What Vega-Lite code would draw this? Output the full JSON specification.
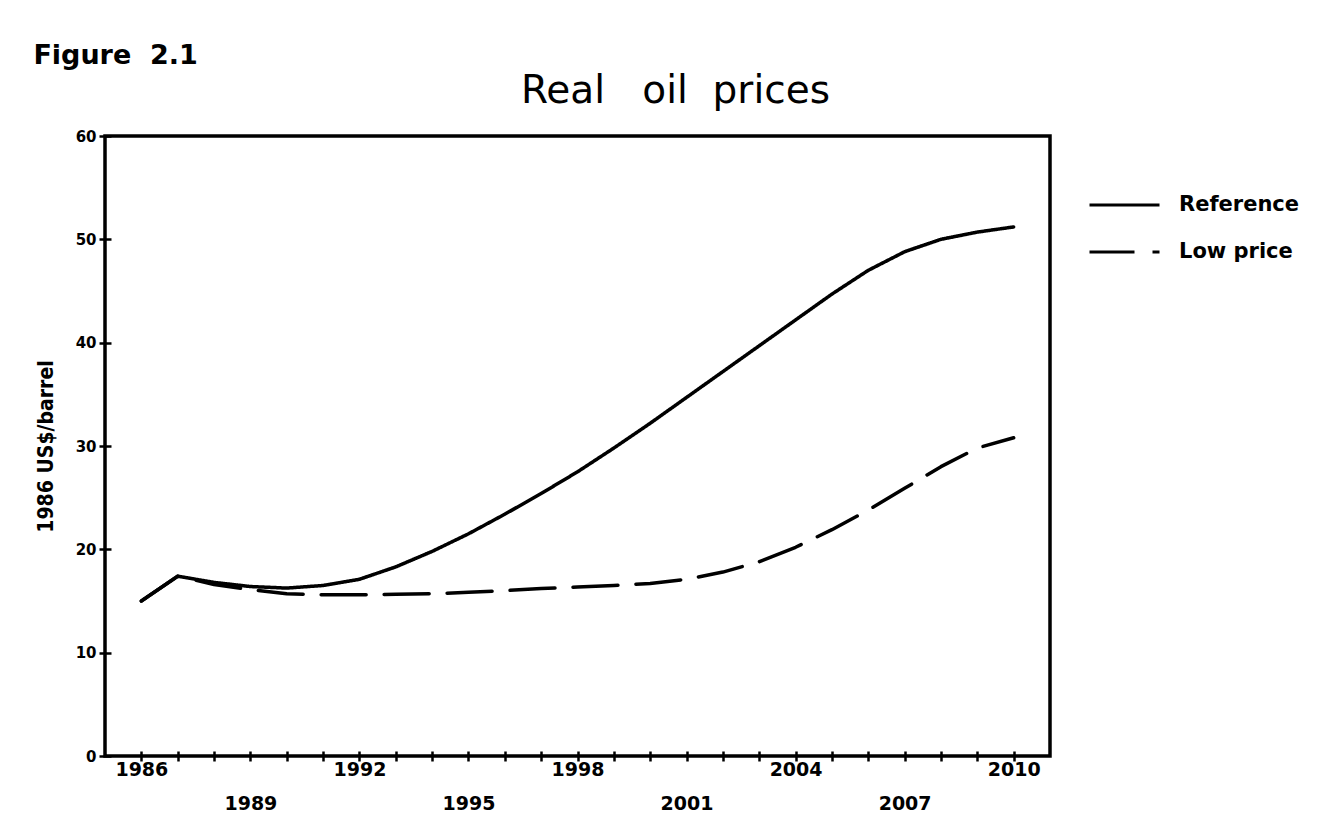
{
  "$schema": "https://vega.github.io/schema/vega-lite/v6.json",
  "background": "white",
  "padding": {"left": 33, "top": 42, "right": 10, "bottom": 5},
  "title": {"text": "Figure\u00a0\u00a02.1", "anchor": "start", "frame": "bounds", "font": "DejaVu Sans", "fontSize": 27, "fontWeight": "bold", "color": "black", "offset": 0},
  "vconcat": [
    {
      "title": {"text": "Real\u00a0\u00a0\u00a0oil\u00a0\u00a0prices", "anchor": "middle", "dx": 98, "font": "DejaVu Sans", "fontSize": 39, "fontWeight": "normal", "color": "black", "offset": 18},
      "width": 945,
      "height": 620,
      "data": {
        "values": [
          {"year": 1986, "price": 15.0, "scenario": "Reference"},
          {"year": 1987, "price": 17.4, "scenario": "Reference"},
          {"year": 1988, "price": 16.8, "scenario": "Reference"},
          {"year": 1989, "price": 16.4, "scenario": "Reference"},
          {"year": 1990, "price": 16.25, "scenario": "Reference"},
          {"year": 1991, "price": 16.5, "scenario": "Reference"},
          {"year": 1992, "price": 17.1, "scenario": "Reference"},
          {"year": 1993, "price": 18.3, "scenario": "Reference"},
          {"year": 1994, "price": 19.8, "scenario": "Reference"},
          {"year": 1995, "price": 21.5, "scenario": "Reference"},
          {"year": 1996, "price": 23.4, "scenario": "Reference"},
          {"year": 1997, "price": 25.4, "scenario": "Reference"},
          {"year": 1998, "price": 27.5, "scenario": "Reference"},
          {"year": 1999, "price": 29.8, "scenario": "Reference"},
          {"year": 2000, "price": 32.2, "scenario": "Reference"},
          {"year": 2001, "price": 34.7, "scenario": "Reference"},
          {"year": 2002, "price": 37.2, "scenario": "Reference"},
          {"year": 2003, "price": 39.7, "scenario": "Reference"},
          {"year": 2004, "price": 42.2, "scenario": "Reference"},
          {"year": 2005, "price": 44.7, "scenario": "Reference"},
          {"year": 2006, "price": 47.0, "scenario": "Reference"},
          {"year": 2007, "price": 48.8, "scenario": "Reference"},
          {"year": 2008, "price": 50.0, "scenario": "Reference"},
          {"year": 2009, "price": 50.7, "scenario": "Reference"},
          {"year": 2010, "price": 51.2, "scenario": "Reference"},
          {"year": 1986, "price": 15.0, "scenario": "Low price"},
          {"year": 1987, "price": 17.4, "scenario": "Low price"},
          {"year": 1988, "price": 16.6, "scenario": "Low price"},
          {"year": 1989, "price": 16.1, "scenario": "Low price"},
          {"year": 1990, "price": 15.7, "scenario": "Low price"},
          {"year": 1991, "price": 15.6, "scenario": "Low price"},
          {"year": 1992, "price": 15.6, "scenario": "Low price"},
          {"year": 1993, "price": 15.65, "scenario": "Low price"},
          {"year": 1994, "price": 15.7, "scenario": "Low price"},
          {"year": 1995, "price": 15.85, "scenario": "Low price"},
          {"year": 1996, "price": 16.0, "scenario": "Low price"},
          {"year": 1997, "price": 16.2, "scenario": "Low price"},
          {"year": 1998, "price": 16.35, "scenario": "Low price"},
          {"year": 1999, "price": 16.5, "scenario": "Low price"},
          {"year": 2000, "price": 16.7, "scenario": "Low price"},
          {"year": 2001, "price": 17.1, "scenario": "Low price"},
          {"year": 2002, "price": 17.8, "scenario": "Low price"},
          {"year": 2003, "price": 18.8, "scenario": "Low price"},
          {"year": 2004, "price": 20.2, "scenario": "Low price"},
          {"year": 2005, "price": 21.9, "scenario": "Low price"},
          {"year": 2006, "price": 23.8, "scenario": "Low price"},
          {"year": 2007, "price": 25.9, "scenario": "Low price"},
          {"year": 2008, "price": 28.0, "scenario": "Low price"},
          {"year": 2009, "price": 29.8, "scenario": "Low price"},
          {"year": 2010, "price": 30.8, "scenario": "Low price"}
        ]
      },
      "mark": {"type": "line", "color": "black", "strokeWidth": 3.5, "strokeCap": "round", "strokeJoin": "round"},
      "encoding": {
        "x": {
          "field": "year", "type": "quantitative",
          "scale": {"domain": [1985, 2011], "nice": false, "zero": false},
          "axis": {
            "values": [1986,1987,1988,1989,1990,1991,1992,1993,1994,1995,1996,1997,1998,1999,2000,2001,2002,2003,2004,2005,2006,2007,2008,2009,2010],
            "format": "d",
            "labelExpr": "datum.value % 6 == 0 ? datum.label : (datum.value % 3 == 0 ? ['', datum.label] : '')",
            "title": null, "grid": false, "domain": false,
            "offset": -5, "tickSize": 10, "tickWidth": 2.5, "tickColor": "black",
            "labelFont": "DejaVu Sans", "labelFontSize": 19, "labelFontWeight": "bold", "labelColor": "black",
            "labelPadding": 14, "labelLineHeight": 34, "labelBaseline": "alphabetic",
            "labelOverlap": false, "labelFlush": false
          }
        },
        "y": {
          "field": "price", "type": "quantitative",
          "scale": {"domain": [0, 60], "nice": false},
          "axis": {
            "values": [0, 10, 20, 30, 40, 50, 60],
            "title": "1986 US$/barrel", "titleFont": "Liberation Sans Narrow, DejaVu Sans Condensed, Liberation Sans", "titleFontSize": 21, "titleFontWeight": "bold", "titleColor": "black", "titlePadding": 19,
            "grid": false, "domain": false,
            "offset": -6, "tickSize": 12, "tickWidth": 2.5, "tickColor": "black",
            "labelFont": "DejaVu Sans", "labelFontSize": 15, "labelFontWeight": "bold", "labelColor": "black",
            "labelPadding": 3, "labelFlush": false, "labelOverlap": false
          }
        },
        "strokeDash": {
          "field": "scenario", "type": "nominal",
          "scale": {"domain": ["Reference", "Low price"], "range": [[1, 0], [45, 18]]},
          "legend": {
            "orient": "none", "legendX": 983, "legendY": 57, "title": null,
            "symbolType": "stroke", "symbolSize": 4900, "symbolStrokeWidth": 3, "symbolStrokeColor": "black",
            "labelFont": "DejaVu Sans", "labelFontSize": 21, "labelFontWeight": "bold", "labelColor": "black",
            "labelOffset": 18, "clipHeight": 24, "rowPadding": 23, "padding": 0
          }
        }
      }
    }
  ],
  "config": {
    "view": {"stroke": "black", "strokeWidth": 3.5}
  }
}
